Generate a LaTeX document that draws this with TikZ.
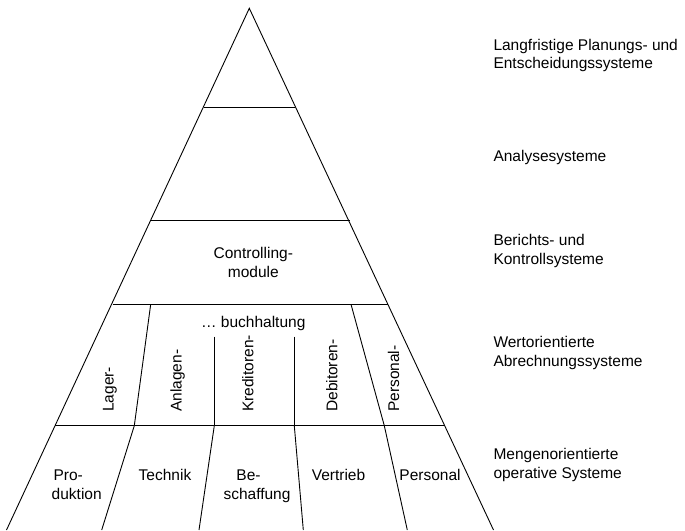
\documentclass[tikz,border=0pt]{standalone}
\usepackage{fontspec}
\setmainfont{Liberation Sans}
\begin{document}
\begin{tikzpicture}[x=1pt,y=-1pt,
  ln/.style={line width=0.9pt,black},
  lbl/.style={inner sep=0pt,font=\fontsize{15.5}{18.5}\selectfont},
  rlbl/.style={lbl,anchor=base west,align=left},
  vlbl/.style={lbl,anchor=base west,rotate=90},
  clbl/.style={lbl,anchor=base,align=center}]
\useasboundingbox (0,0) rectangle (685,530);
% triangle
\coordinate (apex) at (249.3,8.3);
\coordinate (bl) at (6.5,530);
\coordinate (br) at (493.5,530);
\draw[ln] (bl) -- (apex) -- (br);
% horizontal levels
\coordinate (h1l) at (203.5,107.3); \coordinate (h1r) at (295,107.3);
\coordinate (h2l) at (150.7,220.7); \coordinate (h2r) at (350,220.7);
\coordinate (h3l) at (112.5,304.3); \coordinate (h3r) at (387.7,304.3);
\coordinate (h4l) at (55,425.7);    \coordinate (h4r) at (444.5,425.7);
\draw[ln] (h1l) -- (h1r);
\draw[ln] (h2l) -- (h2r);
\draw[ln] (h3l) -- (h3r);
\draw[ln] (h4l) -- (h4r);
% dividers band 4
\coordinate (a1) at (150.7,304.3); \coordinate (b1) at (134.3,425.7);
\coordinate (a2) at (214.3,336.5); \coordinate (b2) at (214.3,425.7);
\coordinate (a3) at (294.3,336.5); \coordinate (b3) at (294.3,425.7);
\coordinate (a4) at (351,304.3);   \coordinate (b4) at (384.3,425.7);
\draw[ln] (a1) -- (b1);
\draw[ln] (a2) -- (b2);
\draw[ln] (a3) -- (b3);
\draw[ln] (a4) -- (b4);
% dividers band 5
\coordinate (c1) at (101.7,530);
\coordinate (c2) at (199,530);
\coordinate (c3) at (303.3,530);
\coordinate (c4) at (407.3,530);
\draw[ln] (b1) -- (c1);
\draw[ln] (b2) -- (c2);
\draw[ln] (b3) -- (c3);
\draw[ln] (b4) -- (c4);
% inner labels (base anchor = baseline of last line)
\node[clbl] (ctrl) at (253.3,277) {Controlling-\\module};
\node[clbl] (buch) at (253.3,327.3) {… buchhaltung};
\node[vlbl] (lager) at (113.5,412) {Lager-};
\node[vlbl] (anl) at (181.7,412) {Anlagen-};
\node[vlbl] (kred) at (253.3,412) {Kreditoren-};
\node[vlbl] (deb) at (337.3,412) {Debitoren-};
\node[vlbl] (pers) at (399,412) {Personal-};
\node[clbl] (prod) at (76.7,499) {Pro-\hspace*{17pt}\\duktion};
\node[clbl] (tech) at (165,480) {Technik};
\node[clbl] (besch) at (257,499) {Be-\hspace*{17pt}\\schaffung};
\node[clbl] (vert) at (338.5,480) {Vertrieb};
\node[clbl] (perso) at (430,480) {Personal};
% right labels
\node[rlbl] (r1) at (493.3,68.5) {Langfristige Planungs- und\\Entscheidungssysteme};
\node[rlbl] (r2) at (493.3,161) {Analysesysteme};
\node[rlbl] (r3) at (493.3,264) {Berichts- und\\Kontrollsysteme};
\node[rlbl] (r4) at (493.3,366) {Wertorientierte\\Abrechnungssysteme};
\node[rlbl] (r5) at (493.3,478) {Mengenorientierte\\operative Systeme};
\end{tikzpicture}
\end{document}
